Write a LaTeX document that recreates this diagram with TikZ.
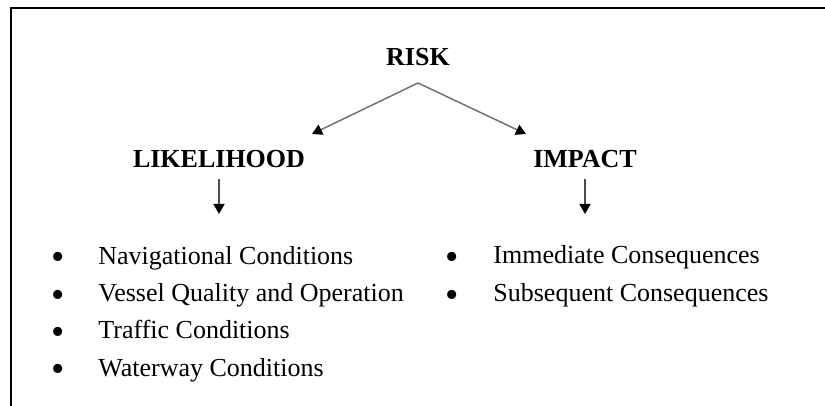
\documentclass[tikz,border=0pt]{standalone}
\usepackage{fontspec}
\setmainfont{Liberation Serif}
\usetikzlibrary{arrows.meta}

\tikzset{
  head/.style={font=\fontsize{13}{15}\selectfont\bfseries, inner sep=0pt},
  item/.style={font=\fontsize{13}{15}\selectfont, inner sep=0pt, anchor=base west},
  dot/.style={font=\fontsize{19}{21}\selectfont, inner sep=0pt},
  link/.style={draw=black!55, line width=0.75pt, -{Triangle[length=5pt,width=5.5pt,color=black]}}
}

\begin{document}
\begin{tikzpicture}[x=0.5pt,y=-0.5pt]
   \useasboundingbox (0,0) rectangle (825,406);
   % frame
   \draw[line width=1pt] (825,8) -- (11,8) -- (11,406);

   \node[head] (risk) at (418,57) {RISK};
   \node[head] (like) at (219,159) {LIKELIHOOD};
   \node[head] (imp) at (585,159) {IMPACT};

   \coordinate (apex) at (418,83);
   \coordinate (ltip) at (312,134);
   \coordinate (rtip) at (526,134);
   \draw[link] (apex) -- (ltip);
   \draw[link] (apex) -- (rtip);

   \coordinate (ldown) at (219,214);
   \coordinate (rdown) at (585,214);
   \draw[link,draw=black!70] ([yshift=-5.5pt]like.south) -- (ldown);
   \draw[link,draw=black!70] ([yshift=-5.5pt]imp.south) -- (rdown);

   % likelihood list
   \foreach \txt [count=\i] in {Navigational Conditions,Vessel Quality and Operation,Traffic Conditions,Waterway Conditions}{
     \node[dot] (lb\i) at (58,{224+37.3*\i}) {•};
     \node[item] (li\i) at (98,{227+37.3*\i}) {\txt};
   }
   % impact list
   \foreach \txt [count=\i] in {Immediate Consequences,Subsequent Consequences}{
     \node[dot] (rb\i) at (452,{223+38*\i}) {•};
     \node[item] (ri\i) at (493,{226+38*\i}) {\txt};
   }
\end{tikzpicture}
\end{document}
